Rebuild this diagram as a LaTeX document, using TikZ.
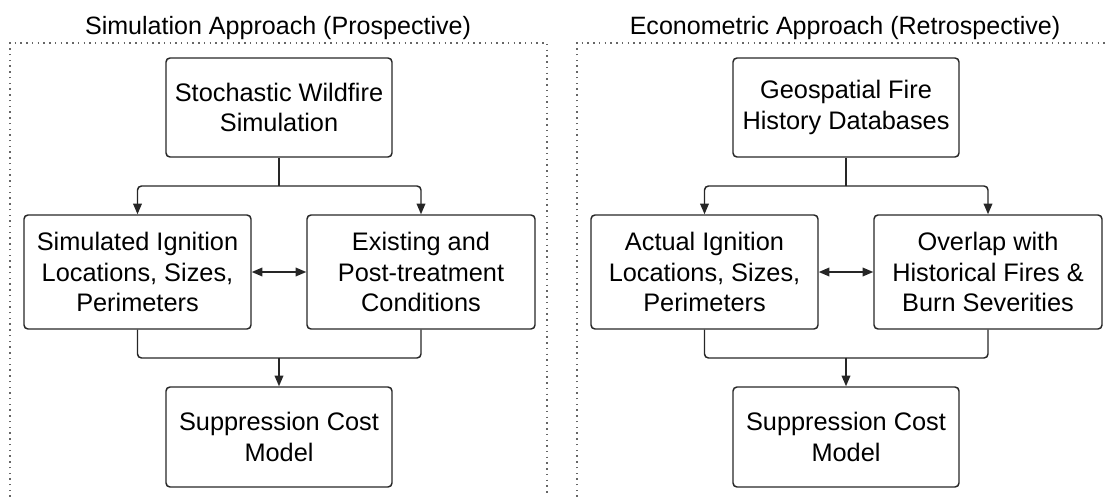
\documentclass[tikz,border=0pt]{standalone}
\usepackage{fontspec}
\setmainfont{Liberation Sans}
\usetikzlibrary{arrows.meta}
\begin{document}
\begin{tikzpicture}[x=0.75pt,y=-0.75pt,
  box/.style={draw=black!85, line width=1.1pt, rounded corners=3pt, align=center, inner sep=0pt,
    font=\fontsize{19}{22.9}\selectfont, text=black},
  conn/.style={draw=black!85, line width=1.1pt, rounded corners=3pt},
  arr/.style={conn, -{Triangle[length=8pt,width=6.5pt]}},
  darr/.style={conn, {Triangle[length=8pt,width=6.5pt]}-{Triangle[length=8pt,width=6.5pt]}},
  panel/.style={draw=black!60, line width=1.1pt, dash pattern=on 1.1pt off 3.2pt},
  ttl/.style={anchor=base, font=\fontsize{18.8}{22}\selectfont, text=black}]
\useasboundingbox (0,0) rectangle (1106,496);
\clip (0,0) rectangle (1106,496);
% Left panel
\draw[panel] (10,560) -- (10,43) -- (547,43) -- (547,560);
\node[ttl] (t1) at (278,34) {Simulation Approach (Prospective)};
\node[box, minimum width=226*0.75pt, minimum height=99*0.75pt] (a1) at (279,107.5) {Stochastic Wildfire\\Simulation};
\node[box, minimum width=227*0.75pt, minimum height=114*0.75pt] (b1) at (137.5,272) {Simulated Ignition\\Locations, Sizes,\\Perimeters};
\node[box, minimum width=228*0.75pt, minimum height=114*0.75pt] (c1) at (421,272) {Existing and\\Post-treatment\\Conditions};
\node[box, minimum width=226*0.75pt, minimum height=100*0.75pt] (d1) at (279,437) {Suppression Cost\\Model};
\coordinate (j1) at (279,186);
\coordinate (k1) at (279,358);
\draw[conn] (a1.south) -- (j1);
\draw[arr] (j1) -| (b1.north);
\draw[arr] (j1) -| (c1.north);
\draw[darr] (b1.east) -- (c1.west);
\draw[conn] (b1.south) |- (k1);
\draw[conn] (c1.south) |- (k1);
\draw[arr] (k1) -- (d1.north);
% Right panel
\draw[panel] (577,560) -- (577,43) -- (1114,43) -- (1114,560);
\node[ttl] (t2) at (845,34) {Econometric Approach (Retrospective)};
\node[box, minimum width=226*0.75pt, minimum height=99*0.75pt] (a2) at (846,107.5) {Geospatial Fire\\History Databases};
\node[box, minimum width=227*0.75pt, minimum height=114*0.75pt] (b2) at (704.5,272) {Actual Ignition\\Locations, Sizes,\\Perimeters};
\node[box, minimum width=228*0.75pt, minimum height=114*0.75pt] (c2) at (988,272) {Overlap with\\Historical Fires \&\\Burn Severities};
\node[box, minimum width=226*0.75pt, minimum height=100*0.75pt] (d2) at (846,437) {Suppression Cost\\Model};
\coordinate (j2) at (846,186);
\coordinate (k2) at (846,358);
\draw[conn] (a2.south) -- (j2);
\draw[arr] (j2) -| (b2.north);
\draw[arr] (j2) -| (c2.north);
\draw[darr] (b2.east) -- (c2.west);
\draw[conn] (b2.south) |- (k2);
\draw[conn] (c2.south) |- (k2);
\draw[arr] (k2) -- (d2.north);
\end{tikzpicture}
\end{document}
